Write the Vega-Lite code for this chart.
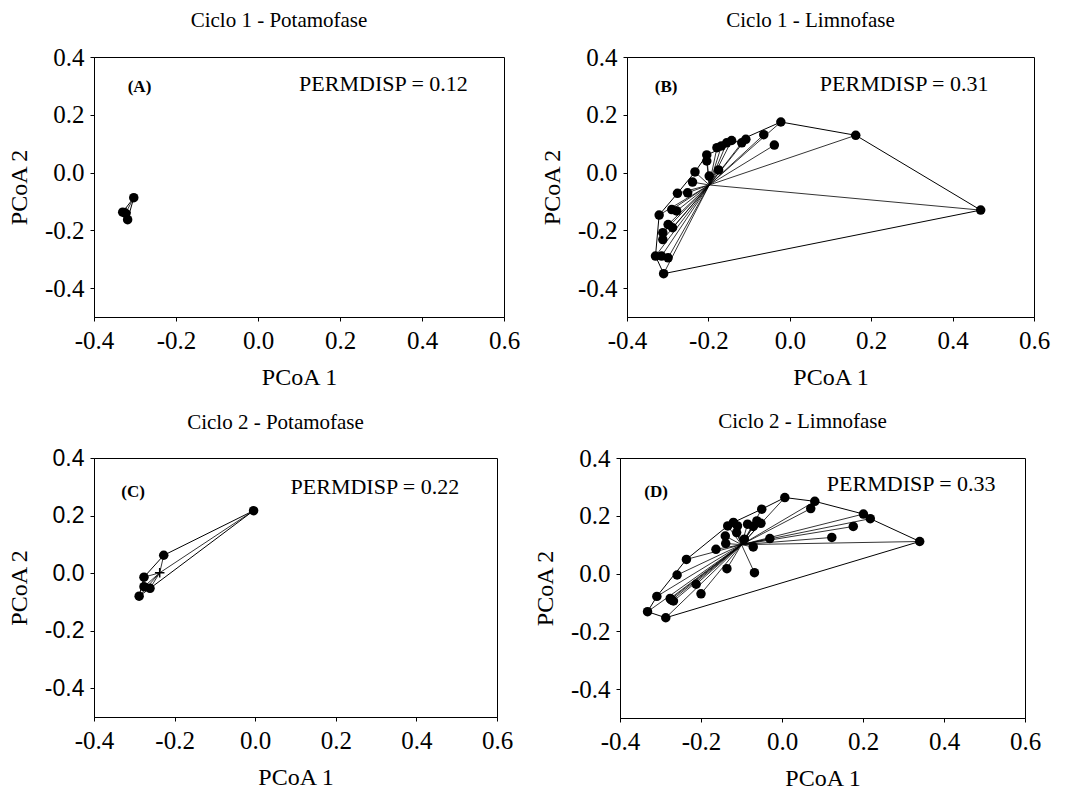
{
  "$schema": "https://vega.github.io/schema/vega-lite/v6.json",
  "background": "white",
  "padding": {"left": 6, "top": 9, "right": 5, "bottom": 1},
  "datasets": {
    "pts": [
      {"panel":"A","x":-0.303,"y":-0.087},{"panel":"A","x":-0.330,"y":-0.137},{"panel":"A","x":-0.322,"y":-0.142},{"panel":"A","x":-0.318,"y":-0.163},
      {"panel":"B","x":-0.022,"y":0.175},{"panel":"B","x":0.162,"y":0.129},{"panel":"B","x":0.469,"y":-0.130},{"panel":"B","x":-0.310,"y":-0.350},
      {"panel":"B","x":-0.330,"y":-0.289},{"panel":"B","x":-0.315,"y":-0.289},{"panel":"B","x":-0.299,"y":-0.295},{"panel":"B","x":-0.321,"y":-0.147},
      {"panel":"B","x":-0.312,"y":-0.208},{"panel":"B","x":-0.312,"y":-0.232},{"panel":"B","x":-0.299,"y":-0.180},{"panel":"B","x":-0.288,"y":-0.191},
      {"panel":"B","x":-0.290,"y":-0.128},{"panel":"B","x":-0.278,"y":-0.133},{"panel":"B","x":-0.276,"y":-0.072},{"panel":"B","x":-0.251,"y":-0.070},
      {"panel":"B","x":-0.239,"y":-0.033},{"panel":"B","x":-0.233,"y":0.002},{"panel":"B","x":-0.204,"y":0.061},{"panel":"B","x":-0.204,"y":0.040},
      {"panel":"B","x":-0.198,"y":-0.012},{"panel":"B","x":-0.175,"y":0.009},{"panel":"B","x":-0.179,"y":0.086},{"panel":"B","x":-0.168,"y":0.092},
      {"panel":"B","x":-0.155,"y":0.103},{"panel":"B","x":-0.143,"y":0.111},{"panel":"B","x":-0.118,"y":0.103},{"panel":"B","x":-0.108,"y":0.115},
      {"panel":"B","x":-0.064,"y":0.131},{"panel":"B","x":-0.038,"y":0.095},
      {"panel":"C","x":-0.004,"y":0.217},{"panel":"C","x":-0.227,"y":0.062},{"panel":"C","x":-0.276,"y":-0.014},{"panel":"C","x":-0.276,"y":-0.047},
      {"panel":"C","x":-0.261,"y":-0.053},{"panel":"C","x":-0.288,"y":-0.080},
      {"panel":"D","x":0.007,"y":0.263},{"panel":"D","x":0.081,"y":0.250},{"panel":"D","x":0.071,"y":0.225},{"panel":"D","x":0.201,"y":0.206},
      {"panel":"D","x":0.218,"y":0.190},{"panel":"D","x":0.176,"y":0.163},{"panel":"D","x":0.123,"y":0.125},{"panel":"D","x":0.340,"y":0.111},
      {"panel":"D","x":-0.030,"y":0.121},{"panel":"D","x":-0.050,"y":0.223},{"panel":"D","x":-0.062,"y":0.182},{"panel":"D","x":-0.052,"y":0.174},
      {"panel":"D","x":-0.071,"y":0.163},{"panel":"D","x":-0.085,"y":0.171},{"panel":"D","x":-0.071,"y":0.092},{"panel":"D","x":-0.068,"y":0.003},
      {"panel":"D","x":-0.093,"y":0.119},{"panel":"D","x":-0.120,"y":0.177},{"panel":"D","x":-0.110,"y":0.165},{"panel":"D","x":-0.112,"y":0.142},
      {"panel":"D","x":-0.134,"y":0.165},{"panel":"D","x":-0.140,"y":0.130},{"panel":"D","x":-0.139,"y":0.104},{"panel":"D","x":-0.163,"y":0.084},
      {"panel":"D","x":-0.136,"y":0.017},{"panel":"D","x":-0.236,"y":0.049},{"panel":"D","x":-0.259,"y":-0.005},{"panel":"D","x":-0.212,"y":-0.037},
      {"panel":"D","x":-0.200,"y":-0.070},{"panel":"D","x":-0.309,"y":-0.079},{"panel":"D","x":-0.276,"y":-0.086},{"panel":"D","x":-0.268,"y":-0.095},
      {"panel":"D","x":-0.275,"y":-0.089},{"panel":"D","x":-0.272,"y":-0.092},{"panel":"D","x":-0.332,"y":-0.132},{"panel":"D","x":-0.287,"y":-0.153}
    ],
    "cent": [
      {"panel":"A","cx":-0.322,"cy":-0.138},{"panel":"B","cx":-0.198,"cy":-0.043},{"panel":"C","cx":-0.237,"cy":0.001},{"panel":"D","cx":-0.100,"cy":0.100}
    ],
    "hull": [
      {"panel":"A","i":0,"x":-0.303,"y":-0.087},{"panel":"A","i":1,"x":-0.330,"y":-0.137},{"panel":"A","i":2,"x":-0.318,"y":-0.163},{"panel":"A","i":3,"x":-0.303,"y":-0.087},
      {"panel":"B","i":0,"x":-0.022,"y":0.175},{"panel":"B","i":1,"x":0.162,"y":0.129},{"panel":"B","i":2,"x":0.469,"y":-0.130},{"panel":"B","i":3,"x":-0.310,"y":-0.350},
      {"panel":"B","i":4,"x":-0.330,"y":-0.289},{"panel":"B","i":5,"x":-0.321,"y":-0.147},{"panel":"B","i":6,"x":-0.276,"y":-0.072},{"panel":"B","i":7,"x":-0.233,"y":0.002},
      {"panel":"B","i":8,"x":-0.204,"y":0.061},{"panel":"B","i":9,"x":-0.022,"y":0.175},
      {"panel":"C","i":0,"x":-0.004,"y":0.217},{"panel":"C","i":1,"x":-0.227,"y":0.062},{"panel":"C","i":2,"x":-0.276,"y":-0.014},{"panel":"C","i":3,"x":-0.288,"y":-0.080},
      {"panel":"C","i":4,"x":-0.261,"y":-0.053},{"panel":"C","i":5,"x":-0.004,"y":0.217},
      {"panel":"D","i":0,"x":-0.332,"y":-0.132},{"panel":"D","i":1,"x":-0.309,"y":-0.079},{"panel":"D","i":2,"x":-0.236,"y":0.049},{"panel":"D","i":3,"x":-0.134,"y":0.165},
      {"panel":"D","i":4,"x":-0.120,"y":0.177},{"panel":"D","i":5,"x":-0.050,"y":0.223},{"panel":"D","i":6,"x":0.007,"y":0.263},{"panel":"D","i":7,"x":0.081,"y":0.250},
      {"panel":"D","i":8,"x":0.201,"y":0.206},{"panel":"D","i":9,"x":0.218,"y":0.190},{"panel":"D","i":10,"x":0.340,"y":0.111},{"panel":"D","i":11,"x":-0.287,"y":-0.153},
      {"panel":"D","i":12,"x":-0.332,"y":-0.132}
    ],
    "notes": [
      {"panel":"A","kind":"tag","label":"(A)","x":-0.289,"y":0.297},{"panel":"A","kind":"stat","label":"PERMDISP = 0.12","x":0.306,"y":0.305},
      {"panel":"B","kind":"tag","label":"(B)","x":-0.304,"y":0.296},{"panel":"B","kind":"stat","label":"PERMDISP = 0.31","x":0.281,"y":0.305},
      {"panel":"C","kind":"tag","label":"(C)","x":-0.303,"y":0.281},{"panel":"C","kind":"stat","label":"PERMDISP = 0.22","x":0.297,"y":0.298},
      {"panel":"D","kind":"tag","label":"(D)","x":-0.311,"y":0.284},{"panel":"D","kind":"stat","label":"PERMDISP = 0.33","x":0.319,"y":0.31}
    ]
  },
  "spacing": 20,
  "vconcat": [
    {
      "spacing": 18,
      "hconcat": [
        {
          "width": 410, "height": 260,
          "title": {"text": "Ciclo 1 - Potamofase"},
          "encoding": {
            "x": {"field": "x", "type": "quantitative", "title": "PCoA 1", "scale": {"domain": [-0.4, 0.6], "nice": false, "zero": false},
                  "axis": {"values": [-0.4, -0.2, 0, 0.2, 0.4, 0.6], "labelExpr": "datum.value < 0 ? '-' + format(-datum.value, '.1f') : format(datum.value, '.1f')", "labelFlush": false, "labelOverlap": false, "titlePadding": 12, "labelPadding": 7, "labelFont": "Liberation Serif"}},
            "y": {"field": "y", "type": "quantitative", "title": "PCoA 2", "scale": {"domain": [-0.5, 0.4], "nice": false, "zero": false},
                  "axis": {"values": [-0.4, -0.2, 0, 0.2, 0.4], "labelExpr": "datum.value < 0 ? '-' + format(-datum.value, '.1f') : format(datum.value, '.1f')", "labelOverlap": false, "titlePadding": 13, "labelPadding": 6, "labelFont": "Liberation Serif"}}
          },
          "layer": [
            {"data": {"name": "hull"}, "transform": [{"filter": "datum.panel === 'A'"}], "mark": {"type": "line", "color": "black", "strokeWidth": 1}, "encoding": {"order": {"field": "i", "type": "quantitative"}}},
            {"data": {"name": "pts"}, "transform": [{"filter": "datum.panel === 'A'"}, {"lookup": "panel", "from": {"data": {"name": "cent"}, "key": "panel", "fields": ["cx", "cy"]}}],
             "mark": {"type": "rule", "color": "black", "strokeWidth": 0.8},
             "encoding": {"x": {"field": "cx", "type": "quantitative", "title": "PCoA 1"}, "y": {"field": "cy", "type": "quantitative", "title": "PCoA 2"}, "x2": {"field": "x"}, "y2": {"field": "y"}}},
            {"data": {"name": "pts"}, "transform": [{"filter": "datum.panel === 'A'"}], "mark": {"type": "circle", "color": "black", "opacity": 1, "size": 90}},
            {"data": {"name": "cent"}, "transform": [{"filter": "datum.panel === 'A'"}], "mark": {"type": "point", "shape": "M-1,0L1,0M0,-1L0,1", "filled": false, "color": "black", "strokeWidth": 1.5, "size": 90, "opacity": 1},
             "encoding": {"x": {"field": "cx", "type": "quantitative", "title": "PCoA 1"}, "y": {"field": "cy", "type": "quantitative", "title": "PCoA 2"}}},
            {"data": {"name": "notes"}, "transform": [{"filter": "datum.panel === 'A' && datum.kind === 'tag'"}], "mark": {"type": "text", "font": "Liberation Serif", "fontWeight": "bold", "fontSize": 17, "color": "black"},
             "encoding": {"text": {"field": "label"}}},
            {"data": {"name": "notes"}, "transform": [{"filter": "datum.panel === 'A' && datum.kind === 'stat'"}], "mark": {"type": "text", "font": "Liberation Serif", "fontSize": 22, "color": "black"},
             "encoding": {"text": {"field": "label"}}}
          ]
        },
        {
          "width": 407, "height": 260,
          "title": {"text": "Ciclo 1 - Limnofase"},
          "encoding": {
            "x": {"field": "x", "type": "quantitative", "title": "PCoA 1", "scale": {"domain": [-0.4, 0.6], "nice": false, "zero": false},
                  "axis": {"values": [-0.4, -0.2, 0, 0.2, 0.4, 0.6], "labelExpr": "datum.value < 0 ? '-' + format(-datum.value, '.1f') : format(datum.value, '.1f')", "labelFlush": false, "labelOverlap": false, "titlePadding": 12, "labelPadding": 7, "labelFont": "Liberation Serif"}},
            "y": {"field": "y", "type": "quantitative", "title": "PCoA 2", "scale": {"domain": [-0.5, 0.4], "nice": false, "zero": false},
                  "axis": {"values": [-0.4, -0.2, 0, 0.2, 0.4], "labelExpr": "datum.value < 0 ? '-' + format(-datum.value, '.1f') : format(datum.value, '.1f')", "labelOverlap": false, "titlePadding": 13, "labelPadding": 6, "labelFont": "Liberation Serif"}}
          },
          "layer": [
            {"data": {"name": "hull"}, "transform": [{"filter": "datum.panel === 'B'"}], "mark": {"type": "line", "color": "black", "strokeWidth": 1}, "encoding": {"order": {"field": "i", "type": "quantitative"}}},
            {"data": {"name": "pts"}, "transform": [{"filter": "datum.panel === 'B'"}, {"lookup": "panel", "from": {"data": {"name": "cent"}, "key": "panel", "fields": ["cx", "cy"]}}],
             "mark": {"type": "rule", "color": "black", "strokeWidth": 0.8},
             "encoding": {"x": {"field": "cx", "type": "quantitative", "title": "PCoA 1"}, "y": {"field": "cy", "type": "quantitative", "title": "PCoA 2"}, "x2": {"field": "x"}, "y2": {"field": "y"}}},
            {"data": {"name": "pts"}, "transform": [{"filter": "datum.panel === 'B'"}], "mark": {"type": "circle", "color": "black", "opacity": 1, "size": 90}},
            {"data": {"name": "notes"}, "transform": [{"filter": "datum.panel === 'B' && datum.kind === 'tag'"}], "mark": {"type": "text", "font": "Liberation Serif", "fontWeight": "bold", "fontSize": 17, "color": "black"},
             "encoding": {"text": {"field": "label"}}},
            {"data": {"name": "notes"}, "transform": [{"filter": "datum.panel === 'B' && datum.kind === 'stat'"}], "mark": {"type": "text", "font": "Liberation Serif", "fontSize": 22, "color": "black"},
             "encoding": {"text": {"field": "label"}}}
          ]
        }
      ]
    },
    {
      "spacing": 18,
      "hconcat": [
        {
          "width": 403, "height": 259,
          "title": {"text": "Ciclo 2 - Potamofase"},
          "encoding": {
            "x": {"field": "x", "type": "quantitative", "title": "PCoA 1", "scale": {"domain": [-0.4, 0.6], "nice": false, "zero": false},
                  "axis": {"values": [-0.4, -0.2, 0, 0.2, 0.4, 0.6], "labelExpr": "datum.value < 0 ? '-' + format(-datum.value, '.1f') : format(datum.value, '.1f')", "labelFlush": false, "labelOverlap": false, "titlePadding": 12, "labelPadding": 7, "labelFont": "Liberation Serif"}},
            "y": {"field": "y", "type": "quantitative", "title": "PCoA 2", "scale": {"domain": [-0.5, 0.4], "nice": false, "zero": false},
                  "axis": {"values": [-0.4, -0.2, 0, 0.2, 0.4], "labelExpr": "datum.value < 0 ? '-' + format(-datum.value, '.1f') : format(datum.value, '.1f')", "labelOverlap": false, "titlePadding": 13, "labelPadding": 6, "labelFont": "Liberation Sans", "labelFontSize": 23}}
          },
          "layer": [
            {"data": {"name": "hull"}, "transform": [{"filter": "datum.panel === 'C'"}], "mark": {"type": "line", "color": "black", "strokeWidth": 1}, "encoding": {"order": {"field": "i", "type": "quantitative"}}},
            {"data": {"name": "pts"}, "transform": [{"filter": "datum.panel === 'C'"}, {"lookup": "panel", "from": {"data": {"name": "cent"}, "key": "panel", "fields": ["cx", "cy"]}}],
             "mark": {"type": "rule", "color": "black", "strokeWidth": 0.8},
             "encoding": {"x": {"field": "cx", "type": "quantitative", "title": "PCoA 1"}, "y": {"field": "cy", "type": "quantitative", "title": "PCoA 2"}, "x2": {"field": "x"}, "y2": {"field": "y"}}},
            {"data": {"name": "pts"}, "transform": [{"filter": "datum.panel === 'C'"}], "mark": {"type": "circle", "color": "black", "opacity": 1, "size": 90}},
            {"data": {"name": "cent"}, "transform": [{"filter": "datum.panel === 'C'"}], "mark": {"type": "point", "shape": "M-1,0L1,0M0,-1L0,1", "filled": false, "color": "black", "strokeWidth": 1.5, "size": 90, "opacity": 1},
             "encoding": {"x": {"field": "cx", "type": "quantitative", "title": "PCoA 1"}, "y": {"field": "cy", "type": "quantitative", "title": "PCoA 2"}}},
            {"data": {"name": "notes"}, "transform": [{"filter": "datum.panel === 'C' && datum.kind === 'tag'"}], "mark": {"type": "text", "font": "Liberation Serif", "fontWeight": "bold", "fontSize": 17, "color": "black"},
             "encoding": {"text": {"field": "label"}}},
            {"data": {"name": "notes"}, "transform": [{"filter": "datum.panel === 'C' && datum.kind === 'stat'"}], "mark": {"type": "text", "font": "Liberation Serif", "fontSize": 22, "color": "black"},
             "encoding": {"text": {"field": "label"}}}
          ]
        },
        {
          "width": 405, "height": 260,
          "title": {"text": "Ciclo 2 - Limnofase"},
          "encoding": {
            "x": {"field": "x", "type": "quantitative", "title": "PCoA 1", "scale": {"domain": [-0.4, 0.6], "nice": false, "zero": false},
                  "axis": {"values": [-0.4, -0.2, 0, 0.2, 0.4, 0.6], "labelExpr": "datum.value < 0 ? '-' + format(-datum.value, '.1f') : format(datum.value, '.1f')", "labelFlush": false, "labelOverlap": false, "titlePadding": 12, "labelPadding": 7, "labelFont": "Liberation Serif"}},
            "y": {"field": "y", "type": "quantitative", "title": "PCoA 2", "scale": {"domain": [-0.5, 0.4], "nice": false, "zero": false},
                  "axis": {"values": [-0.4, -0.2, 0, 0.2, 0.4], "labelExpr": "datum.value < 0 ? '-' + format(-datum.value, '.1f') : format(datum.value, '.1f')", "labelOverlap": false, "titlePadding": 13, "labelPadding": 6, "labelFont": "Liberation Serif"}}
          },
          "layer": [
            {"data": {"name": "hull"}, "transform": [{"filter": "datum.panel === 'D'"}], "mark": {"type": "line", "color": "black", "strokeWidth": 1}, "encoding": {"order": {"field": "i", "type": "quantitative"}}},
            {"data": {"name": "pts"}, "transform": [{"filter": "datum.panel === 'D'"}, {"lookup": "panel", "from": {"data": {"name": "cent"}, "key": "panel", "fields": ["cx", "cy"]}}],
             "mark": {"type": "rule", "color": "black", "strokeWidth": 0.8},
             "encoding": {"x": {"field": "cx", "type": "quantitative", "title": "PCoA 1"}, "y": {"field": "cy", "type": "quantitative", "title": "PCoA 2"}, "x2": {"field": "x"}, "y2": {"field": "y"}}},
            {"data": {"name": "pts"}, "transform": [{"filter": "datum.panel === 'D'"}], "mark": {"type": "circle", "color": "black", "opacity": 1, "size": 90}},
            {"data": {"name": "notes"}, "transform": [{"filter": "datum.panel === 'D' && datum.kind === 'tag'"}], "mark": {"type": "text", "font": "Liberation Serif", "fontWeight": "bold", "fontSize": 17, "color": "black"},
             "encoding": {"text": {"field": "label"}}},
            {"data": {"name": "notes"}, "transform": [{"filter": "datum.panel === 'D' && datum.kind === 'stat'"}], "mark": {"type": "text", "font": "Liberation Serif", "fontSize": 22, "color": "black"},
             "encoding": {"text": {"field": "label"}}}
          ]
        }
      ]
    }
  ],
  "config": {
    "font": "Liberation Serif",
    "view": {"stroke": "black", "strokeWidth": 1},
    "axis": {"grid": false, "domainColor": "black", "tickColor": "black", "labelColor": "black", "titleColor": "black",
             "labelFont": "Liberation Serif", "titleFont": "Liberation Serif", "labelFontSize": 25, "titleFontSize": 24,
             "titleFontWeight": "normal", "tickSize": 4, "labelPadding": 5},
    "title": {"font": "Liberation Serif", "fontSize": 21, "fontWeight": "normal", "color": "black", "frame": "group", "dx": -20, "offset": 14}
  }
}
